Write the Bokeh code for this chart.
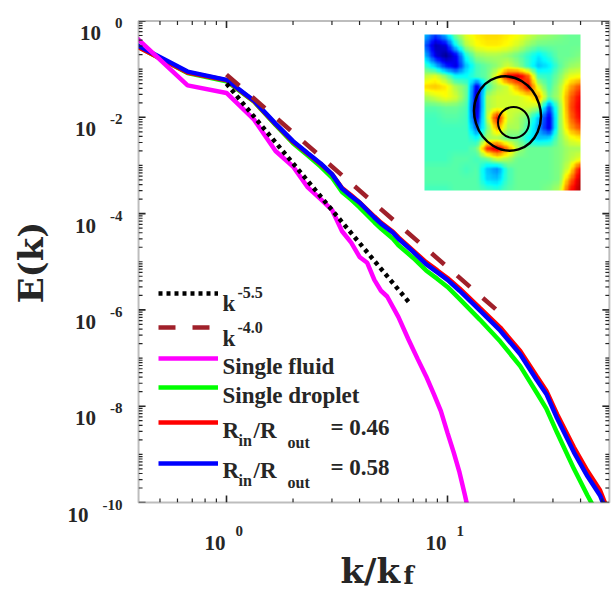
import numpy as np
from bokeh.plotting import figure
from bokeh.models import (Range1d, Label, Legend, LegendItem, LinearColorMapper, BoxAnnotation)
from bokeh.embed import file_html
from bokeh.resources import INLINE

# ---------------- data ----------------
k_fluid = [1/3, 2/3, 1, 4/3, 5/3, 2, 7/3, 8/3, 3, 10/3, 11/3, 4, 13/3, 14/3, 5, 16/3, 6,
           20/3, 22/3, 8, 26/3, 28/3, 10, 32/3, 34/3, 12, 37/3]
E_fluid = [8.9e-1, 4.6e-2, 3.2e-2, 8.9e-3, 2.0e-3, 9.5e-4, 3.5e-4, 2.0e-4, 1.2e-4, 4.3e-5,
           2.5e-5, 1.26e-5, 9.5e-6, 4.2e-6, 2.5e-6, 1.9e-6, 7.1e-7, 2.4e-7, 9.5e-8, 4.2e-8,
           1.8e-8, 7.9e-9, 2.8e-9, 1.1e-9, 4.2e-10, 1.4e-10, 7.9e-11]

k_drop = [1/3, 2/3, 1, 4/3, 5/3, 2, 7/3, 8/3, 3, 10/3, 11/3, 4, 14/3, 5, 17/3, 6, 7, 8, 9, 10,
          34/3, 14, 52/3, 64/3, 76/3, 28, 94/3, 112/3, 43, 46]
E_drop = [4.5e-1, 8.3e-2, 5.6e-2, 2.1e-2, 6.9e-3, 2.9e-3, 1.6e-3, 9.5e-4, 5.6e-4, 2.8e-4,
          1.95e-4, 1.35e-4, 6.6e-5, 4.9e-5, 3.0e-5, 2.2e-5, 1.2e-5, 6.6e-6, 4.4e-6, 3.0e-6,
          1.7e-6, 6.3e-7, 2.2e-7, 6.8e-8, 1.9e-8, 8.9e-9, 2.8e-9, 5.0e-10, 1.4e-10, 7.9e-11]

k_r046 = [1/3, 2/3, 1, 4/3, 5/3, 2, 7/3, 8/3, 3, 10/3, 11/3, 4, 14/3, 5, 17/3, 6, 7, 8, 9, 10,
          34/3, 14, 52/3, 64/3, 76/3, 28, 94/3, 112/3, 43, 49, 52]
E_r046 = [4.4e-1, 8.5e-2, 5.9e-2, 2.15e-2, 7.2e-3, 3.1e-3, 1.75e-3, 1.07e-3, 6.6e-4, 3.4e-4,
          2.4e-4, 1.7e-4, 8.7e-5, 6.5e-5, 4.2e-5, 3.2e-5, 1.7e-5, 9.8e-6, 6.6e-6, 4.6e-6,
          2.8e-6, 1.1e-6, 4.3e-7, 1.4e-7, 4.2e-8, 2.1e-8, 6.8e-9, 1.4e-9, 4.5e-10, 1.8e-10, 8.9e-11]

k_r058 = [1/3, 2/3, 1, 4/3, 5/3, 2, 7/3, 8/3, 3, 10/3, 11/3, 4, 14/3, 5, 17/3, 6, 7, 8, 9, 10,
          34/3, 14, 52/3, 64/3, 76/3, 28, 94/3, 112/3, 43, 49, 51]
E_r058 = [4.7e-1, 8.9e-2, 6.0e-2, 2.2e-2, 7.4e-3, 3.2e-3, 1.8e-3, 1.1e-3, 6.6e-4, 3.3e-4,
          2.3e-4, 1.7e-4, 8.3e-5, 6.2e-5, 4.0e-5, 3.0e-5, 1.6e-5, 8.9e-6, 6.0e-6, 4.2e-6,
          2.5e-6, 9.8e-7, 3.7e-7, 1.2e-7, 3.5e-8, 1.8e-8, 5.6e-9, 1.1e-9, 3.5e-10, 1.4e-10, 8.9e-11]

# reference power laws: amplitude, exponent, k-extent
amp_55, slope_55, k_55 = 0.050, -5.5, [1.0, 6.7]
amp_40, slope_40, k_40 = 0.077, -4.0, [1.0, 16.8]

x_tick_vals = [1, 10]
x_tick_exps = ["0", "1"]
y_tick_vals = [1, 1e-2, 1e-4, 1e-6, 1e-8, 1e-10]
y_tick_exps = ["0", "-2", "-4", "-6", "-8", "-10"]
box_x = (0.4, 54.0)
box_y = (1e-10, 1.0)

# inset snapshot (coarse field, 0 = dark blue, 1 = dark red), top row first
inset_field = [
    [0.32, 0.18, 0.32, 0.50, 0.60, 0.64, 0.66, 0.66, 0.64, 0.62, 0.58, 0.54, 0.52, 0.50, 0.48, 0.48],
    [0.22, 0.05, 0.10, 0.38, 0.55, 0.62, 0.64, 0.64, 0.62, 0.58, 0.52, 0.48, 0.48, 0.48, 0.48, 0.48],
    [0.32, 0.10, 0.02, 0.12, 0.40, 0.52, 0.54, 0.54, 0.52, 0.48, 0.42, 0.36, 0.42, 0.48, 0.48, 0.50],
    [0.44, 0.32, 0.16, 0.10, 0.32, 0.44, 0.48, 0.52, 0.58, 0.52, 0.42, 0.32, 0.36, 0.46, 0.52, 0.54],
    [0.56, 0.60, 0.50, 0.38, 0.38, 0.44, 0.48, 0.62, 0.88, 0.92, 0.78, 0.44, 0.42, 0.50, 0.60, 0.62],
    [0.66, 0.68, 0.64, 0.54, 0.48, 0.10, 0.44, 0.54, 0.58, 0.72, 0.88, 0.58, 0.44, 0.54, 0.70, 0.80],
    [0.54, 0.58, 0.62, 0.58, 0.48, 0.05, 0.54, 0.58, 0.58, 0.58, 0.62, 0.72, 0.48, 0.55, 0.76, 0.88],
    [0.46, 0.46, 0.48, 0.48, 0.45, 0.05, 0.54, 0.58, 0.58, 0.58, 0.58, 0.54, 0.20, 0.50, 0.78, 0.90],
    [0.44, 0.44, 0.46, 0.46, 0.44, 0.10, 0.54, 0.88, 0.58, 0.54, 0.48, 0.32, 0.10, 0.50, 0.75, 0.88],
    [0.44, 0.44, 0.44, 0.44, 0.44, 0.22, 0.48, 0.72, 0.54, 0.54, 0.44, 0.28, 0.10, 0.50, 0.70, 0.80],
    [0.44, 0.44, 0.44, 0.44, 0.44, 0.38, 0.54, 0.54, 0.48, 0.48, 0.38, 0.32, 0.34, 0.50, 0.60, 0.64],
    [0.44, 0.44, 0.44, 0.44, 0.44, 0.48, 0.82, 0.92, 0.74, 0.54, 0.48, 0.48, 0.48, 0.50, 0.54, 0.54],
    [0.44, 0.44, 0.44, 0.46, 0.46, 0.44, 0.48, 0.58, 0.54, 0.48, 0.48, 0.48, 0.48, 0.50, 0.55, 0.60],
    [0.46, 0.46, 0.46, 0.46, 0.44, 0.46, 0.32, 0.26, 0.44, 0.48, 0.48, 0.48, 0.48, 0.50, 0.60, 0.88],
    [0.46, 0.46, 0.46, 0.46, 0.46, 0.46, 0.34, 0.32, 0.44, 0.48, 0.48, 0.48, 0.48, 0.50, 0.74, 0.94],
    [0.44, 0.44, 0.44, 0.46, 0.46, 0.46, 0.44, 0.42, 0.46, 0.48, 0.48, 0.48, 0.50, 0.55, 0.84, 0.96],
]

# ---------------- layout constants (canvas pixels) ----------------
W, H = 612, 587
PX_DEC_X, X_ONE = 221.0, 226.0      # px per decade, canvas x of k = 1
PX_DEC_Y, Y_ONE = 48.15, 20.5       # px per decade, canvas y of E = 1
X_START, X_END = 10 ** (-X_ONE / PX_DEC_X), 10 ** ((W - X_ONE) / PX_DEC_X)
Y_END, Y_START = 10 ** (Y_ONE / PX_DEC_Y), 10 ** (-(H - Y_ONE) / PX_DEC_Y)
MAJOR_LEN, MINOR_LEN = 7, 4


def cx_of(k):
    return X_ONE + PX_DEC_X * np.log10(k)


def cy_of(E):
    return Y_ONE - PX_DEC_Y * np.log10(E)


def data_of(px, py):
    return 10 ** ((px - X_ONE) / PX_DEC_X), 10 ** (-(py - Y_ONE) / PX_DEC_Y)


SERIF = "Liberation Serif"
LABEL_FONT = "DejaVu Serif"
INK = "#262626"

p = figure(width=W, height=H, x_axis_type="log", y_axis_type="log",
           x_axis_location=None, y_axis_location=None,
           x_range=Range1d(X_START, X_END), y_range=Range1d(Y_START, Y_END),
           output_backend="svg", toolbar_location=None,
           min_border_left=0, min_border_right=0, min_border_top=0, min_border_bottom=0)
p.background_fill_color = "white"
p.border_fill_color = "white"
p.outline_line_color = None
p.grid.visible = False

# ---------------- inset ----------------
def jet(n=256):
    x = np.linspace(0, 1, n)
    r = np.clip(1.5 - np.abs(4 * x - 3), 0, 1)
    g = np.clip(1.5 - np.abs(4 * x - 2), 0, 1)
    b = np.clip(1.5 - np.abs(4 * x - 1), 0, 1)
    return ["#%02x%02x%02x" % (int(255 * a), int(255 * c), int(255 * d)) for a, c, d in zip(r, g, b)]


def smooth_display(field, f=8):
    # bilinear resampling of the coarse field for display only
    a = np.array(field)
    n, m = a.shape
    yi = np.linspace(0, n - 1, n * f)
    xi = np.linspace(0, m - 1, m * f)
    rows = np.array([np.interp(xi, np.arange(m), row) for row in a])
    return np.array([np.interp(yi, np.arange(n), col) for col in rows.T]).T


INSET_L, INSET_T, INSET_S = 424, 34, 156
ix, iy = data_of(INSET_L, INSET_T + INSET_S)
p.image(image=[np.flipud(smooth_display(inset_field))], x=ix, y=iy, dw=INSET_S, dh=INSET_S,
        dw_units="screen", dh_units="screen",
        color_mapper=LinearColorMapper(palette=jet(), low=0, high=1))
ox, oy = data_of(INSET_L + 83, INSET_T + 79)
p.ellipse(x=[ox], y=[oy], width=66, height=75, angle=0.3, width_units="screen",
          height_units="screen", fill_color=None, line_color="black", line_width=2.5)
qx, qy = data_of(INSET_L + 89, INSET_T + 88)
p.ellipse(x=[qx], y=[qy], width=31, height=31, width_units="screen",
          height_units="screen", fill_color=None, line_color="black", line_width=2)

# ---------------- curves ----------------
LW = 4.5
r_drop = p.line(k_drop, E_drop, line_color="#00ff00", line_width=LW)
r_046 = p.line(k_r046, E_r046, line_color="#ff0000", line_width=LW)
r_058 = p.line(k_r058, E_r058, line_color="#0000ff", line_width=LW)
r_fluid = p.line(k_fluid, E_fluid, line_color="#ff00ff", line_width=LW)
k55 = np.array(k_55)
k40 = np.array(k_40)
r_55 = p.line(k55, amp_55 * k55 ** slope_55, line_color="black", line_width=4.5, line_dash="4 4")
r_40 = p.line(k40, amp_40 * k40 ** slope_40, line_color="#a0202a", line_width=4.5, line_dash="17 17")

# white masks outside the axes box (clip curves to the box)
for l, r, b, t in ((X_START, box_x[0], Y_START, Y_END), (box_x[1], X_END, Y_START, Y_END),
                   (X_START, X_END, box_y[1], Y_END), (X_START, X_END, Y_START, box_y[0])):
    p.add_layout(BoxAnnotation(left=l, right=r, bottom=b, top=t, fill_color="white",
                               fill_alpha=1, line_alpha=0, level="glyph"))

# ---------------- axes box with inward ticks ----------------
p.add_layout(BoxAnnotation(left=box_x[0], right=box_x[1], bottom=box_y[0], top=box_y[1],
                           fill_alpha=0, line_color=INK, line_width=2))

x_minor = [m * 10.0 ** e for e in (-1, 0, 1) for m in range(2, 10)
           if box_x[0] < m * 10.0 ** e < box_x[1]]
y_minor = [m * 10.0 ** e for e in range(-10, 0) for m in range(1, 10) if not (m == 1 and e % 2 == 0)]

for vals, ln, lw in ((x_tick_vals, MAJOR_LEN, 1.6), (x_minor, MINOR_LEN, 1.2)):
    v = np.array(vals, dtype=float)
    fy = 10 ** (ln / PX_DEC_Y)
    p.segment(x0=v, x1=v, y0=np.full_like(v, box_y[0]), y1=np.full_like(v, box_y[0] * fy),
              line_color=INK, line_width=lw)
    p.segment(x0=v, x1=v, y0=np.full_like(v, box_y[1]), y1=np.full_like(v, box_y[1] / fy),
              line_color=INK, line_width=lw)
for vals, ln, lw in ((y_tick_vals, MAJOR_LEN, 1.6), (y_minor, MINOR_LEN, 1.2)):
    v = np.array(vals, dtype=float)
    fx = 10 ** (ln / PX_DEC_X)
    p.segment(y0=v, y1=v, x0=np.full_like(v, box_x[0]), x1=np.full_like(v, box_x[0] * fx),
              line_color=INK, line_width=lw)
    p.segment(y0=v, y1=v, x0=np.full_like(v, box_x[1]), x1=np.full_like(v, box_x[1] / fx),
              line_color=INK, line_width=lw)


# ---------------- text (canvas coordinates: x from left, baseline y from top) ----------------
def lab(px, py, text, size, align="left", font=SERIF, baseline="alphabetic", **kw):
    p.add_layout(Label(x=px, y=H - py, x_units="screen", y_units="screen", text=text,
                       text_align=align, text_baseline=baseline, text_font=font,
                       text_font_style="bold", text_font_size=size, text_color=INK, **kw))


for v, e in zip(x_tick_vals, x_tick_exps):
    tx = cx_of(v)
    lab(tx - 1, 542, "10", "21px", align="right")
    lab(tx + 9, 530, e, "15px")

for v, e in zip(y_tick_vals, y_tick_exps):
    ty = cy_of(v)
    exp_w = 7.5 * sum(c.isdigit() for c in e) + 5 * e.count("-")
    lab(122, ty + 2, e, "15px", align="right")
    lab(122 - exp_w - 14, ty + 12, "10", "21px", align="right")

# axis titles
lab(30, 262, "E(k)", "34px", align="center", font=LABEL_FONT, baseline="middle", angle=np.pi / 2)
lab(340, 570, "k/k", "34px", font=LABEL_FONT)
lab(403, 575, "f", "24px", font=LABEL_FONT)

# ---------------- legend ----------------
rows = [(r_55, 293), (r_40, 327), (r_fluid, 358), (r_drop, 387), (r_046, 422), (r_058, 463)]
for r, yc in rows:
    leg = Legend(items=[LegendItem(label="", renderers=[r])], location=(158, H - (yc + 10)),
                 glyph_width=60, glyph_height=20, label_width=0, label_height=20,
                 label_standoff=0, padding=0, margin=0, spacing=0,
                 border_line_alpha=0, background_fill_alpha=0, label_text_font_size="12px")
    p.add_layout(leg)

TX = 222
lab(TX, 303, "k", "23px")
lab(TX + 15, 292, "-5.5", "16px")
lab(TX, 338, "k", "23px")
lab(TX + 15, 327, "-4.0", "16px")
lab(TX, 366, "Single fluid", "23px")
lab(TX, 395, "Single droplet", "23px")
for base, val in ((430, "= 0.46"), (470, "= 0.58")):
    lab(TX, base, "R", "23px")
    lab(TX + 16, base + 10, "in", "16px")
    lab(TX + 31, base, "/R", "23px")
    lab(TX + 65, base + 12, "out", "16px")
    lab(TX + 108, base - 3, val, "23px")

open("out.html", "w").write(file_html(p, INLINE))
